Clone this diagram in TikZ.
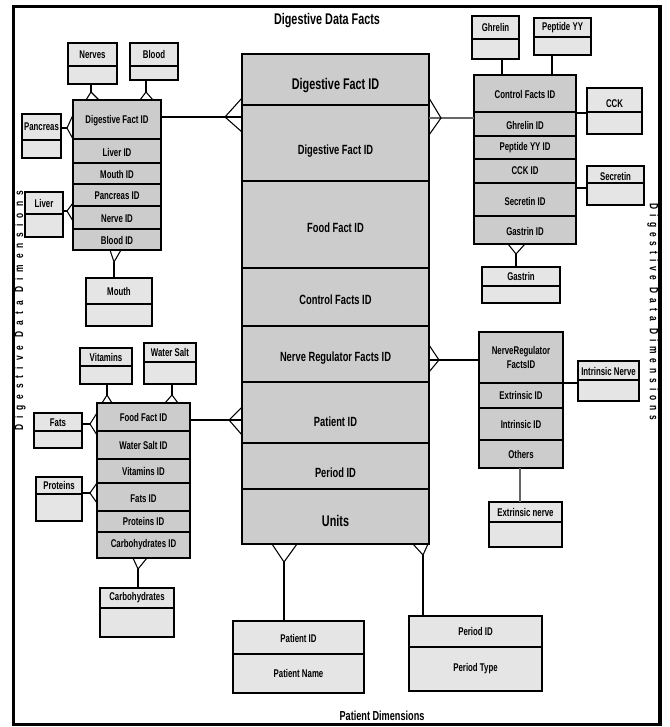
\documentclass[tikz,border=0pt]{standalone}
\usepackage{fontspec}
\setmainfont{Liberation Sans}[FakeStretch=0.7]
\newfontfamily\spacedfontL{Liberation Sans}[FakeStretch=0.7,LetterSpace=50]
\newfontfamily\spacedfontR{Liberation Sans}[FakeStretch=0.7,LetterSpace=41]
\definecolor{factfill}{gray}{0.8}
\definecolor{dimfill}{gray}{0.9}
\tikzset{
  box/.style={draw=black, line width=0.8pt, inner sep=0pt, outer sep=0pt},
  fact/.style={box, fill=factfill},
  attr/.style={box, fill=dimfill},
  small/.style={font=\bfseries\fontsize{8.4}{11}\selectfont, align=center, inner sep=0pt},
  mid/.style={font=\bfseries\fontsize{10}{12}\selectfont, align=center, inner sep=0pt},
  big/.style={font=\bfseries\fontsize{11.6}{13}\selectfont, align=center, inner sep=0pt},
  side/.style={inner sep=0pt},
  link/.style={draw=black, line width=0.8pt},
  greylink/.style={draw=black!60, line width=0.9pt},
  frame/.style={draw=black, line width=2.6pt},
}
% cell: name, x1, y1, x2, y2, box style, text style, text drop (px), text
\newcommand\cell[9]{%
  \node[#6, minimum width={(#4-#2)*0.75pt}, minimum height={(#5-#3)*0.75pt}, anchor=north west] (#1) at (#2,#3) {};
  \node[#7] (#1-t) at ([yshift={-(#8)*0.75pt}]#1.center) {#9};}
% empty cell: name, x1, y1, x2, y2, box style
\newcommand\blankcell[6]{%
  \node[#6, minimum width={(#4-#2)*0.75pt}, minimum height={(#5-#3)*0.75pt}, anchor=north west] (#1) at (#2,#3) {};}
% crow's foot: apex, prong, prong
\newcommand\crow[3]{\draw[link] #2 -- #1 -- #3;}
\begin{document}
\begin{tikzpicture}[x=0.75pt,y=-0.75pt]
\useasboundingbox (0,0) rectangle (669,727);
\draw[frame] (13.5,6.5) rectangle (660,724.5);

% headings
\node[big] (title) at (327,21) {Digestive Data Facts};
\node[font=\bfseries\fontsize{9.8}{11}\selectfont, inner sep=0pt] (patdims) at (382,716) {Patient Dimensions};
\node[side, rotate=90, font=\spacedfontL\bfseries\fontsize{9}{10}\selectfont] (leftlab) at (20,311) {Digestive Data Dimensions};
\node[side, rotate=-90, font=\spacedfontR\bfseries\fontsize{9}{10}\selectfont] (rightlab) at (653,312) {Digestive Data Dimensions};

% central fact table
\cell{m1}{242}{54}{429}{105}{fact}{big}{6}{Digestive Fact ID}
\cell{m2}{242}{105}{429}{181}{fact}{mid}{8}{Digestive Fact ID}
\cell{m3}{242}{181}{429}{268}{fact}{mid}{3}{Food Fact ID}
\cell{m4}{242}{268}{429}{326}{fact}{mid}{3}{Control Facts ID}
\cell{m5}{242}{326}{429}{382}{fact}{mid}{4}{Nerve Regulator Facts ID}
\cell{m6}{242}{382}{429}{443}{fact}{mid}{9}{Patient ID}
\cell{m7}{242}{443}{429}{489}{fact}{mid}{7}{Period ID}
\cell{m8}{242}{489}{429}{544}{fact}{big}{4}{Units}

% digestive dimension table
\cell{d1}{73}{100}{161}{139}{fact}{small}{1}{Digestive Fact ID}
\cell{d2}{73}{139}{161}{163}{fact}{small}{1}{Liver ID}
\cell{d3}{73}{163}{161}{184}{fact}{small}{1}{Mouth ID}
\cell{d4}{73}{184}{161}{206}{fact}{small}{1}{Pancreas ID}
\cell{d5}{73}{206}{161}{229}{fact}{small}{1}{Nerve ID}
\cell{d6}{73}{229}{161}{250}{fact}{small}{1}{Blood ID}

\cell{nerves}{68}{43}{117}{66}{attr}{small}{0}{Nerves}
\blankcell{nerves-b}{68}{66}{117}{84}{attr}
\cell{blood}{130}{43}{178}{66}{attr}{small}{0}{Blood}
\blankcell{blood-b}{130}{66}{178}{80}{attr}
\cell{pancreas}{22}{114}{61}{140}{attr}{small}{0}{Pancreas}
\blankcell{pancreas-b}{22}{140}{61}{158}{attr}
\cell{liver}{25}{192}{63}{214}{attr}{small}{0}{Liver}
\blankcell{liver-b}{25}{214}{63}{237}{attr}
\cell{mouth}{86}{278}{152}{304}{attr}{small}{0}{Mouth}
\blankcell{mouth-b}{86}{304}{152}{326}{attr}

% control table
\cell{c1}{474}{75}{576}{112}{fact}{small}{1}{Control Facts ID}
\cell{c2}{474}{112}{576}{136}{fact}{small}{1}{Ghrelin ID}
\cell{c3}{474}{136}{576}{159}{fact}{small}{0}{Peptide YY ID}
\cell{c4}{474}{159}{576}{183}{fact}{small}{0}{CCK ID}
\cell{c5}{474}{183}{576}{216}{fact}{small}{2}{Secretin ID}
\cell{c6}{474}{216}{576}{244}{fact}{small}{1}{Gastrin ID}

\cell{ghrelin}{472}{16}{519}{39}{attr}{small}{0}{Ghrelin}
\blankcell{ghrelin-b}{472}{39}{519}{59}{attr}
\cell{peptide}{534}{18}{591}{37}{attr}{small}{0}{Peptide YY}
\blankcell{peptide-b}{534}{37}{591}{55}{attr}
\cell{cck}{587}{88}{642}{112}{attr}{small}{4}{CCK}
\blankcell{cck-b}{587}{112}{642}{134}{attr}
\cell{secretin}{587}{166}{644}{183}{attr}{small}{2}{Secretin}
\blankcell{secretin-b}{587}{183}{644}{205}{attr}
\cell{gastrin}{482}{267}{560}{286}{attr}{small}{0}{Gastrin}
\blankcell{gastrin-b}{482}{286}{560}{303}{attr}

% food table
\cell{f1}{97}{403}{190}{431}{fact}{small}{0}{Food Fact ID}
\cell{f2}{97}{431}{190}{459}{fact}{small}{0}{Water Salt ID}
\cell{f3}{97}{459}{190}{483}{fact}{small}{0}{Vitamins ID}
\cell{f4}{97}{483}{190}{511}{fact}{small}{2}{Fats ID}
\cell{f5}{97}{511}{190}{532}{fact}{small}{0}{Proteins ID}
\cell{f6}{97}{532}{190}{558}{fact}{small}{0}{Carbohydrates ID}

\cell{vitamins}{80}{348}{132}{366}{attr}{small}{0}{Vitamins}
\blankcell{vitamins-b}{80}{366}{132}{384}{attr}
\cell{watersalt}{144}{343}{196}{362}{attr}{small}{0}{Water Salt}
\blankcell{watersalt-b}{144}{362}{196}{384}{attr}
\cell{fats}{34}{413}{82}{431}{attr}{small}{1}{Fats}
\blankcell{fats-b}{34}{431}{82}{448}{attr}
\cell{proteins}{36}{477}{82}{494}{attr}{small}{0}{Proteins}
\blankcell{proteins-b}{36}{494}{82}{521}{attr}
\cell{carbs}{100}{588}{174}{608}{attr}{small}{0}{Carbohydrates}
\blankcell{carbs-b}{100}{608}{174}{637}{attr}

% nerve regulator table
\cell{n1}{479}{332}{563}{383}{fact}{small}{0}{NerveRegulator\\FactsID}
\cell{n2}{479}{383}{563}{408}{fact}{small}{0}{Extrinsic ID}
\cell{n3}{479}{408}{563}{440}{fact}{small}{0}{Intrinsic ID}
\cell{n4}{479}{440}{563}{468}{fact}{small}{0}{Others}

\cell{intrinsic}{578}{361}{639}{380}{attr}{small}{1}{Intrinsic Nerve}
\blankcell{intrinsic-b}{578}{380}{639}{401}{attr}
\cell{extrinsic}{489}{502}{562}{522}{attr}{small}{0}{Extrinsic nerve}
\blankcell{extrinsic-b}{489}{522}{562}{547}{attr}

% patient and period dimensions
\cell{patid}{233}{621}{364}{654}{attr}{small}{1}{Patient ID}
\cell{patname}{233}{654}{364}{693}{attr}{small}{0}{Patient Name}
\cell{perid}{409}{616}{542}{647}{attr}{small}{0}{Period ID}
\cell{pertype}{409}{647}{542}{691}{attr}{small}{0}{Period Type}

% connectors of the central table
\coordinate (kD) at (225,117);
\draw[link] (d1.east |- kD) -- (m2.west |- kD);
\crow{(kD)}{(242,98)}{(242,132)}
\coordinate (kC) at (441,118);
\draw[greylink] (m2.east |- kC) -- (c2.west |- kC);
\crow{(kC)}{(429,98)}{(429,135)}
\coordinate (kF) at (229,420);
\draw[link] (f1.east |- kF) -- (m6.west |- kF);
\crow{(kF)}{(242,407)}{(242,435)}
\coordinate (kN) at (439,360);
\draw[link] (m5.east |- kN) -- (n1.west |- kN);
\crow{(kN)}{(429,345)}{(429,372)}
\coordinate (kP) at (284,562);
\draw[link] (kP) -- (patid.north -| kP);
\crow{(kP)}{(272,544)}{(297,544)}
\coordinate (kT) at (423,555);
\draw[link] (kT) -- (perid.north -| kT);
\crow{(kT)}{(413,544)}{(428,544)}

% digestive dimension connectors
\coordinate (kNv) at (91,92);
\draw[link] (nerves-b.south -| kNv) -- (kNv);
\crow{(kNv)}{(86,100)}{(99,100)}
\coordinate (kBl) at (146,92);
\draw[link] (blood-b.south -| kBl) -- (kBl);
\crow{(kBl)}{(140,100)}{(153,100)}
\coordinate (kPa) at (67,128);
\draw[link] (pancreas.east |- kPa) -- (kPa);
\crow{(kPa)}{(73,115)}{(73,139)}
\coordinate (kLi) at (67,211);
\draw[link] (liver-b.east |- kLi) -- (kLi);
\crow{(kLi)}{(73,203)}{(73,221)}
\coordinate (kMo) at (114,262);
\draw[link] (mouth.north -| kMo) -- (kMo);
\crow{(kMo)}{(110,250)}{(121,250)}

% control connectors
\draw[link] (ghrelin-b.south -| 502,0) -- (c1.north -| 502,0);
\draw[link] (peptide-b.south -| 552,0) -- (c1.north -| 552,0);
\draw[link] (c2.east |- 0,113) -- (cck-b.west |- 0,113);
\draw[link] (c5.east |- 0,188) -- (secretin-b.west |- 0,188);
\coordinate (kGa) at (516,254);
\draw[link] (gastrin.north -| kGa) -- (kGa);
\crow{(kGa)}{(508,244)}{(525,244)}

% food connectors
\coordinate (kVi) at (107,395);
\draw[link] (vitamins-b.south -| kVi) -- (kVi);
\crow{(kVi)}{(102,403)}{(112,403)}
\coordinate (kWs) at (172,395);
\draw[link] (watersalt-b.south -| kWs) -- (kWs);
\crow{(kWs)}{(165,403)}{(178,403)}
\coordinate (kFa) at (90,424);
\draw[link] (fats.east |- kFa) -- (kFa);
\crow{(kFa)}{(97,413)}{(97,435)}
\coordinate (kPr) at (90,493);
\draw[link] (proteins.east |- kPr) -- (kPr);
\crow{(kPr)}{(97,483)}{(97,503)}
\coordinate (kCa) at (138,569);
\draw[link] (carbs.north -| kCa) -- (kCa);
\crow{(kCa)}{(133,558)}{(147,558)}

% nerve regulator connectors
\draw[link] (n1.south east) -- (intrinsic-b.west |- n1.south east);
\draw[greylink] (n4.south -| 520,0) -- (extrinsic.north -| 520,0);
\end{tikzpicture}
\end{document}
